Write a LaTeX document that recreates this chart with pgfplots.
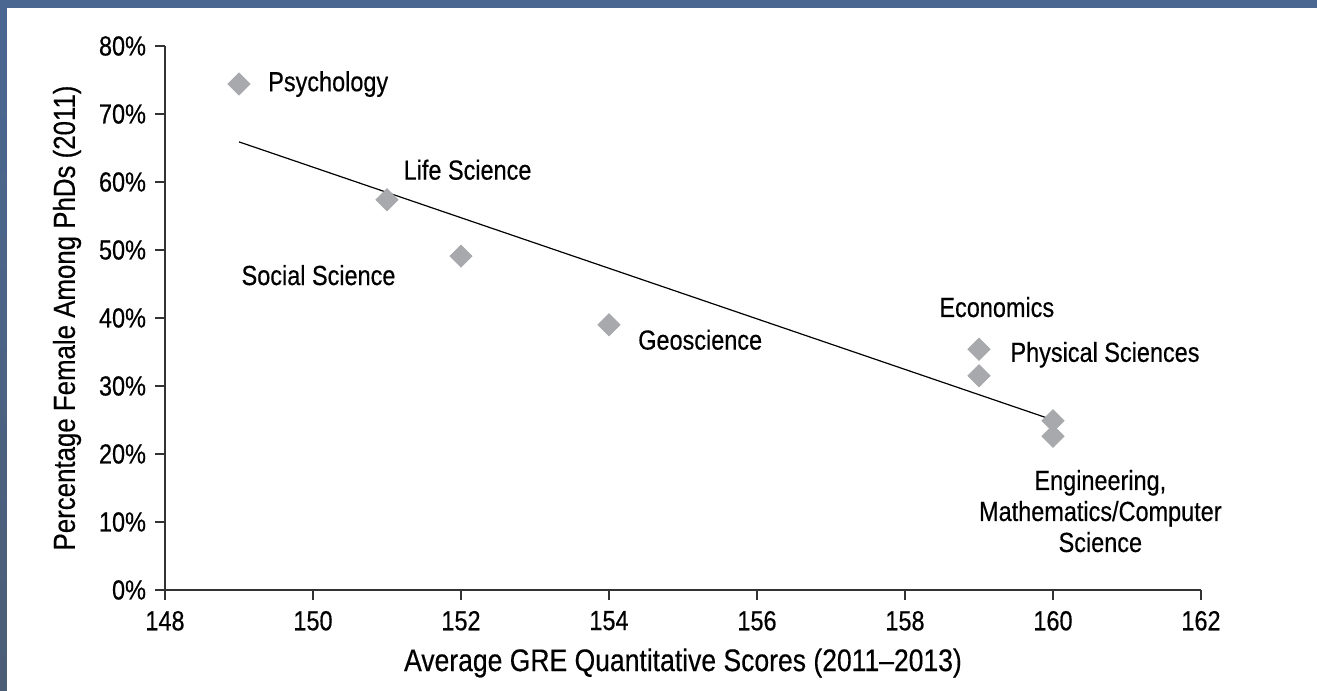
\documentclass[border=0pt]{standalone}
\usepackage{fontspec}
\setmainfont{Liberation Sans}[FakeStretch=0.85, FakeBold=0.4]
\usepackage{pgfplots}
\pgfplotsset{compat=1.18}
\usetikzlibrary{backgrounds}
\definecolor{framebluetop}{HTML}{4A6792}
\definecolor{frameblueleft}{HTML}{4C5E76}
\definecolor{markgray}{HTML}{A7A9AC}
\definecolor{axisgray}{HTML}{333333}

\begin{document}
\begin{tikzpicture}[font=\fontsize{13.8bp}{15.5bp}\selectfont]
\begin{axis}[
    scale only axis,
    width=518bp, height=272bp,
    xmin=148, xmax=162, ymin=0, ymax=80,
    axis x line*=bottom, axis y line*=left,
    axis line style={axisgray, line width=0.8bp},
    xtick={148,150,...,162},
    ytick={0,10,...,80},
    yticklabel={\pgfmathprintnumber{\tick}\%},
    /pgf/number format/assume math mode=true,
    tick align=outside,
    major tick length=5bp,
    tick style={axisgray, line width=0.8bp},
    xticklabel style={yshift=-2bp},
    yticklabel style={xshift=-1bp},
    xlabel={Average GRE Quantitative Scores (2011--2013)},
    ylabel={Percentage Female Among PhDs (2011)},
    every axis x label/.style={at={(axis description cs:0.5,0)}, anchor=center,
        yshift=-36.5bp, font=\fontsize{15.6bp}{18bp}\selectfont},
    every axis y label/.style={at={(axis description cs:0,0.5)}, anchor=center,
        rotate=90, yshift=49bp, font=\fontsize{15.2bp}{18bp}\selectfont},
    clip=false,
]
% trend line
\addplot[black, line width=0.6bp, mark=none] coordinates {(149,65.9)(160,25.0)};

% fields
\addplot[only marks, mark=square*, mark size=3.9bp, color=markgray,
    mark options={rotate=45, draw=markgray, fill=markgray}]
    coordinates {
    (149,74.4)
    (151,57.4)
    (152,49.1)
    (154,39.0)
    (159,35.4)
    (159,31.5)
    (160,24.9)
    (160,22.6)
    };

\node[anchor=west, inner sep=0pt] at (axis cs:149.39,74.4) {Psychology};
\node[anchor=west, inner sep=0pt] at (axis cs:151.22,61.8) {Life Science};
\node[anchor=west, inner sep=0pt] at (axis cs:149.03,46.3) {Social Science};
\node[anchor=west, inner sep=0pt] at (axis cs:154.39,36.8) {Geoscience};
\node[anchor=west, inner sep=0pt] at (axis cs:158.46,41.6) {Economics};
\node[anchor=west, inner sep=0pt] at (axis cs:159.42,34.6) {Physical Sciences};
\node[align=center, inner sep=0pt] at (axis cs:160.64,11.6) {Engineering,\\Mathematics/Computer\\Science};
\end{axis}
\begin{scope}[on background layer]
\fill[white] ([shift={(-82.5bp,-50.5bp)}]current axis.south west) rectangle ([shift={(58bp,23bp)}]current axis.north east);
\fill[framebluetop] ([shift={(-82.5bp,19bp)}]current axis.north west) rectangle ([shift={(58bp,23bp)}]current axis.north east);
\shade[top color=framebluetop, bottom color=frameblueleft] ([shift={(-82.5bp,-50.5bp)}]current axis.south west) rectangle ([shift={(-79bp,23bp)}]current axis.north west);
\end{scope}
\end{tikzpicture}
\end{document}
